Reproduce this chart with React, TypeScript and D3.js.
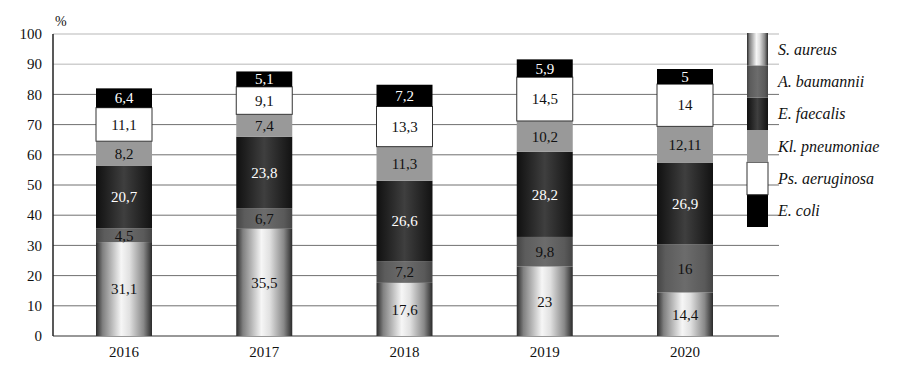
import React from 'react';
import * as d3 from 'd3';

const years = ['2016', '2017', '2018', '2019', '2020'];
const species = ['S. aureus', 'A. baumannii', 'E. faecalis', 'Kl. pneumoniae', 'Ps. aeruginosa', 'E. coli'];
const sAureus = [31.1, 35.5, 17.6, 23, 14.4];
const aBaumannii = [4.5, 6.7, 7.2, 9.8, 16];
const eFaecalis = [20.7, 23.8, 26.6, 28.2, 26.9];
const klPneumoniae = [8.2, 7.4, 11.3, 10.2, 12.11];
const psAeruginosa = [11.1, 9.1, 13.3, 14.5, 14];
const eColi = [6.4, 5.1, 7.2, 5.9, 5];
const yTicks = [0, 10, 20, 30, 40, 50, 60, 70, 80, 90, 100];

const series = [sAureus, aBaumannii, eFaecalis, klPneumoniae, psAeruginosa, eColi];

const fills = ['url(#gAureus)', 'url(#gBaum)', 'url(#gFaec)', '#999999', '#ffffff', '#000000'];
const textColors = ['#111', '#111', '#fff', '#111', '#111', '#fff'];

const font = "'Liberation Serif', 'DejaVu Serif', serif";

export default function App() {
  const width = 900;
  const height = 371;

  const x = d3.scalePoint<string>().domain(years).range([124, 685]);
  const y = d3.scaleLinear().domain([0, 100]).range([336, 34]);
  const barW = 56;

  const table = years.map((yr, i) => {
    const row: Record<string, number | string> = { year: yr };
    species.forEach((s, k) => (row[s] = series[k][i]));
    return row;
  });
  const stacked = d3.stack<any>().keys(species)(table);

  const legendY = d3.scaleBand<string>().domain([...species]).range([33, 227]);

  const fmt = (v: number) => String(v).replace('.', ',');

  return (
    <svg width={width} height={height} style={{ position: 'absolute', left: 0, top: 0, background: '#fff', fontFamily: font }}>
      <defs>
        <linearGradient id="gAureus" x1="0" x2="1" y1="0" y2="0">
          <stop offset="0" stopColor="#2a2a2a" />
          <stop offset="0.12" stopColor="#808080" />
          <stop offset="0.45" stopColor="#f6f6f6" />
          <stop offset="0.6" stopColor="#e0e0e0" />
          <stop offset="0.85" stopColor="#888" />
          <stop offset="1" stopColor="#2a2a2a" />
        </linearGradient>
        <linearGradient id="gBaum" x1="0" x2="1" y1="0" y2="0">
          <stop offset="0" stopColor="#444" />
          <stop offset="0.15" stopColor="#5c5c5c" />
          <stop offset="0.5" stopColor="#6c6c6c" />
          <stop offset="0.85" stopColor="#5a5a5a" />
          <stop offset="1" stopColor="#444" />
        </linearGradient>
        <linearGradient id="gFaec" x1="0" x2="1" y1="0" y2="0">
          <stop offset="0" stopColor="#101010" />
          <stop offset="0.5" stopColor="#3f3f3f" />
          <stop offset="1" stopColor="#121212" />
        </linearGradient>
      </defs>

      {/* gridlines */}
      {yTicks.filter((t) => t > 0).map((t) => (
        <line key={t} x1={53} x2={779} y1={y(t)} y2={y(t)}
          stroke={t >= 90 ? '#cfcfcf' : '#707070'} strokeWidth={t >= 90 ? 1.5 : 1} />
      ))}
      <line x1={53} x2={779} y1={y(0)} y2={y(0)} stroke="#333" strokeWidth={1.2} />
      <line x1={53} x2={53} y1={y(100)} y2={y(0)} stroke="#222" strokeWidth={1.5} />

      {yTicks.map((t) => (
        <text key={t} x={42} y={y(t)} dy="0.35em" textAnchor="end" fontFamily={font} fontSize={15} fill="#111">{t}</text>
      ))}
      <text x={55} y={26} fontFamily={font} fontSize={14} fill="#111">%</text>

      {years.map((yr) => (
        <text key={yr} x={x(yr)} y={357} textAnchor="middle" fontFamily={font} fontSize={15} fill="#111">{yr}</text>
      ))}

      {/* bars */}
      {stacked.map((layer, k) => (
        <g key={layer.key}>
          {layer.map((d, i) => (
            <g key={i}>
              <rect x={(x(years[i]) as number) - barW / 2} y={y(d[1])} width={barW} height={y(d[0]) - y(d[1])}
                fill={fills[k]} stroke={k === 4 ? '#333' : 'none'} strokeWidth={1} />
              <text x={x(years[i])} y={(y(d[0]) + y(d[1])) / 2} dy="0.35em" textAnchor="middle"
                fontFamily={font} fontSize={15} fill={textColors[k]}>{fmt(series[k][i])}</text>
            </g>
          ))}
        </g>
      ))}

      {/* legend */}
      {[...species].reverse().map((s) => {
        const k = species.indexOf(s);
        const yy = legendY(s) as number;
        return (
          <g key={s}>
            <rect x={747} y={yy} width={21} height={legendY.bandwidth()} fill={fills[k]}
              stroke={k === 4 ? '#333' : 'none'} />
            <text x={778} y={yy + legendY.bandwidth() / 2} dy="0.35em" fontFamily={font} fontStyle="italic"
              fontSize={16} fill="#111">{s}</text>
          </g>
        );
      })}
    </svg>
  );
}
